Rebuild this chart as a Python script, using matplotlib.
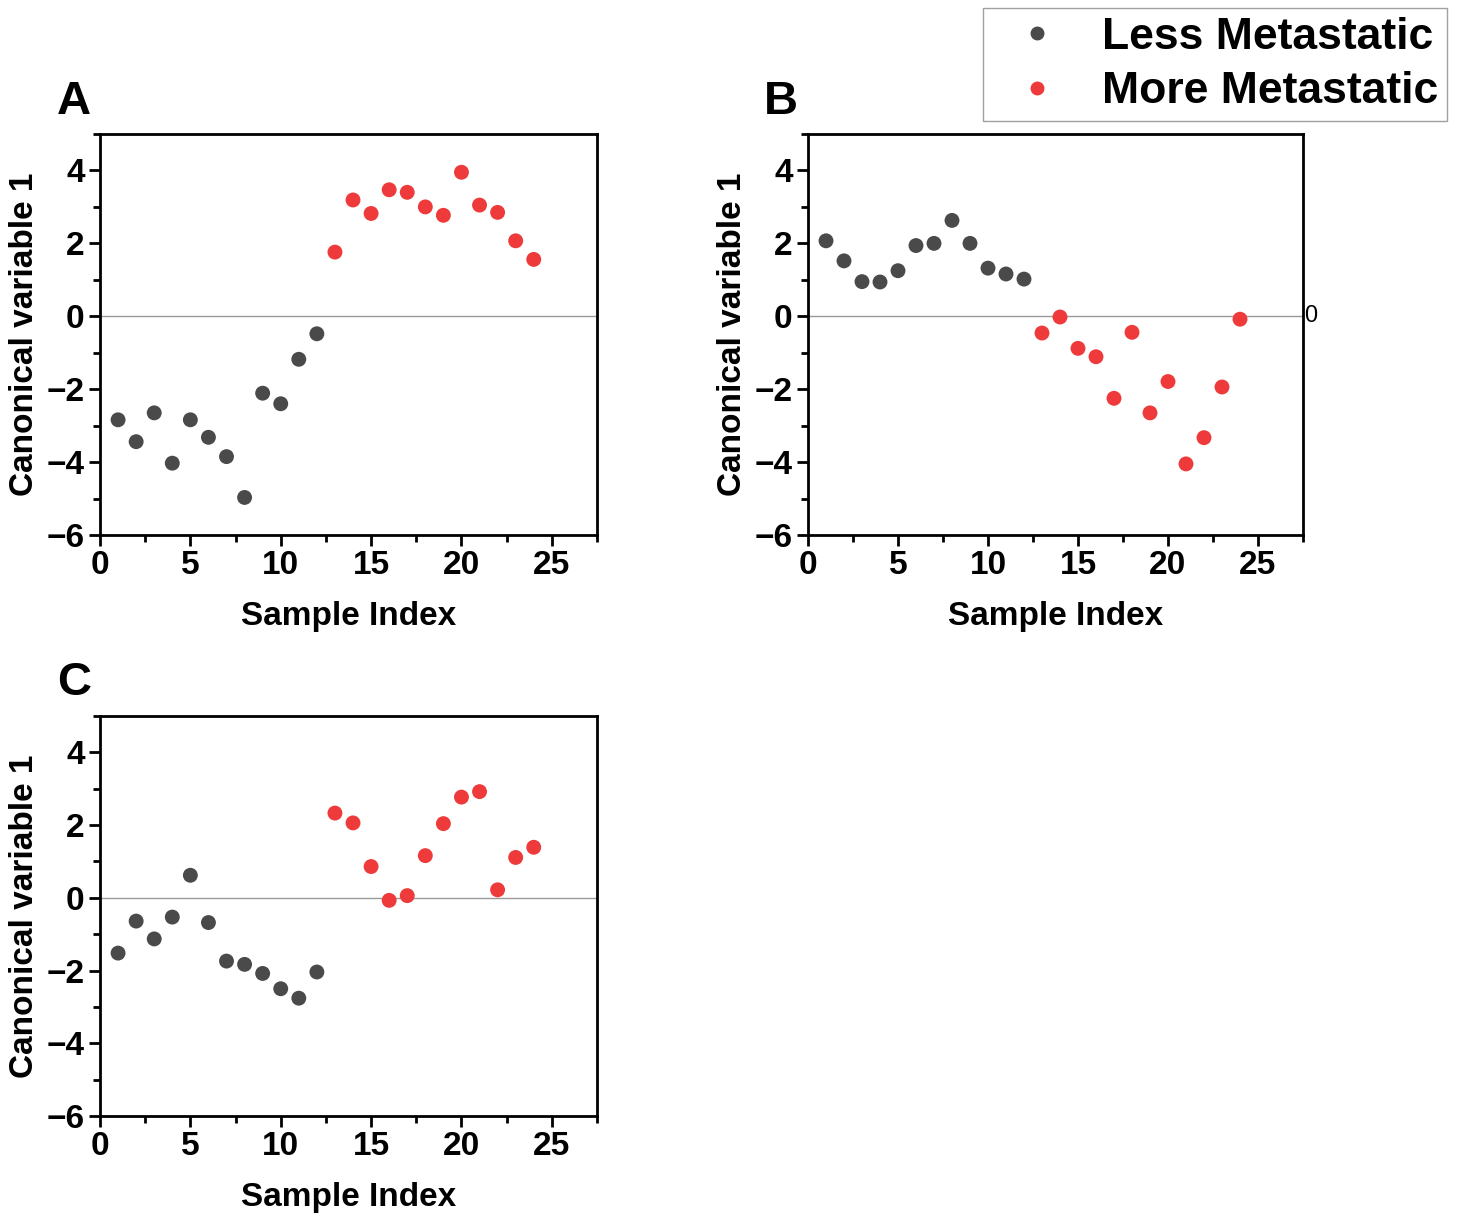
import matplotlib
matplotlib.use("Agg")
import matplotlib.pyplot as plt
from matplotlib.ticker import MultipleLocator
from matplotlib.lines import Line2D

plt.rcParams['font.family'] = ['Liberation Sans', 'DejaVu Sans']

sample_index = list(range(1, 25))
n_less = 12

panel_A = [-2.84, -3.44, -2.65, -4.03, -2.84, -3.32, -3.85, -4.97, -2.11, -2.40, -1.18, -0.48,
           1.76, 3.19, 2.82, 3.47, 3.40, 3.00, 2.77, 3.95, 3.05, 2.85, 2.07, 1.56]
panel_B = [2.07, 1.52, 0.95, 0.94, 1.25, 1.94, 2.00, 2.63, 2.00, 1.32, 1.16, 1.02,
           -0.46, -0.02, -0.88, -1.11, -2.25, -0.44, -2.65, -1.79, -4.05, -3.33, -1.94, -0.08]
panel_C = [-1.52, -0.64, -1.13, -0.53, 0.62, -0.68, -1.74, -1.83, -2.08, -2.50, -2.76, -2.04,
           2.33, 2.06, 0.86, -0.07, 0.06, 1.16, 2.04, 2.77, 2.92, 0.22, 1.11, 1.39]

panel_letters = ['A', 'B', 'C']
legend_labels = ['Less Metastatic', 'More Metastatic']
xticks = [0, 5, 10, 15, 20, 25]
yticks = [-6, -4, -2, 0, 2, 4]

c_less = '#4a4a4a'
c_more = '#ee3a3a'

fig = plt.figure(figsize=(14.58, 12.16), dpi=100)

rects = [
    [100/1458, 1 - 535/1216, 497/1458, 401/1216],
    [808/1458, 1 - 535/1216, 495/1458, 401/1216],
    [100/1458, 1 - 1116/1216, 497/1458, 400/1216],
]
letter_pos = [(74/1458, 1 - 102/1216), (781/1458, 1 - 102/1216), (74/1458, 1 - 683/1216)]

for data, rect, letter, lp in zip([panel_A, panel_B, panel_C], rects, panel_letters, letter_pos):
    ax = fig.add_axes(rect)
    ax.axhline(0, color='#999999', lw=1.0, zorder=1)
    ax.scatter(sample_index[:n_less], data[:n_less], s=115, color=c_less, edgecolors='none', zorder=3)
    ax.scatter(sample_index[n_less:], data[n_less:], s=115, color=c_more, edgecolors='none', zorder=3)
    ax.set_xlim(0, 27.5)
    ax.set_ylim(-6, 5)
    ax.set_xticks(xticks)
    ax.set_yticks(yticks)
    ax.set_yticklabels(['\u2212' + str(abs(t)) if t < 0 else str(t) for t in yticks])
    ax.xaxis.set_minor_locator(MultipleLocator(2.5))
    ax.yaxis.set_minor_locator(MultipleLocator(1))
    ax.tick_params(which='major', direction='out', length=8, width=2, labelsize=24, pad=3)
    ax.tick_params(which='minor', direction='out', length=5, width=2)
    ax.tick_params(top=False, right=False, which='both')
    for lab in ax.get_xticklabels() + ax.get_yticklabels():
        lab.set_fontweight('bold')
    for sp in ax.spines.values():
        sp.set_linewidth(2)
    ax.set_xlabel('Sample Index', fontsize=24, fontweight='bold', labelpad=14)
    ax.set_ylabel('Canonical variable 1', fontsize=24, fontweight='bold', labelpad=5)
    fig.text(lp[0], lp[1], letter, fontsize=34, fontweight='bold', ha='center', va='center')
    if letter == 'B':
        ax.text(1.003, 0, '0', transform=ax.get_yaxis_transform(), fontsize=17,
                ha='left', va='center')

handles = [Line2D([], [], marker='o', ls='none', color=c_less, markersize=9),
           Line2D([], [], marker='o', ls='none', color=c_more, markersize=9)]
leg = fig.legend(handles, legend_labels, loc='upper right',
                 bbox_to_anchor=(1447/1458, 1 - 8/1216),
                 prop={'size': 32, 'weight': 'bold'}, frameon=True, fancybox=False,
                 edgecolor='#888888', handletextpad=0.43, borderpad=0.2,
                 labelspacing=0.3, borderaxespad=0, handlelength=2.05)
leg.get_frame().set_linewidth(1.0)

fig.savefig('out.png', dpi=100)
